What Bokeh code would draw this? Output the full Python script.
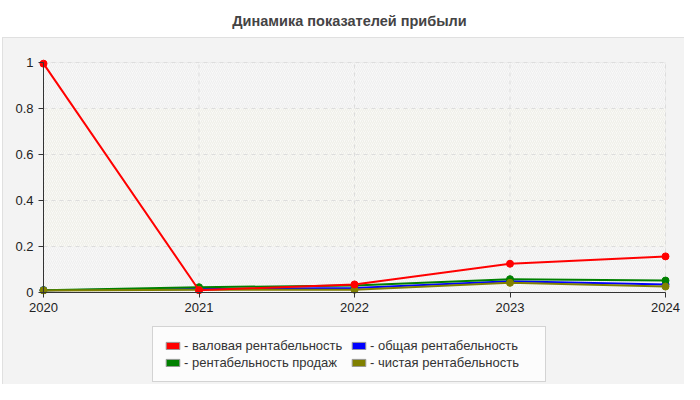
from bokeh.plotting import figure
from bokeh.models import (Range1d, FixedTicker, NumeralTickFormatter, BoxAnnotation,
                          Legend, LegendItem, ColumnDataSource, Label)
from bokeh.embed import file_html
from bokeh.resources import INLINE

years = [2020, 2021, 2022, 2023, 2024]
gross = [0.995, 0.01, 0.035, 0.125, 0.157]     # валовая рентабельность
total = [0.01, 0.015, 0.02, 0.049, 0.035]      # общая рентабельность
sales = [0.01, 0.023, 0.03, 0.058, 0.052]      # рентабельность продаж
net = [0.009, 0.012, 0.012, 0.042, 0.026]      # чистая рентабельность

title_text = "Динамика показателей прибыли"
series_names = ["- валовая рентабельность", "- общая рентабельность",
                "- рентабельность продаж", "- чистая рентабельность"]
series_values = [gross, total, sales, net]
series_colors = ["#ff0000", "#0000ff", "#008000", "#808000"]
y_ticks = [0, 0.2, 0.4, 0.6, 0.8, 1]

FONT = "Liberation Sans"
W, H = 684, 384
PY = 230.0   # pixels per unit of y
PXY = 155.5  # pixels per year
x_lo, x_hi = years[0], years[-1]
y_lo, y_hi = y_ticks[0], y_ticks[-1]

p = figure(width=W, height=H, output_backend="svg", toolbar_location=None,
           x_range=Range1d(x_lo - 43 / PXY, x_hi + 19 / PXY),
           y_range=Range1d(y_lo - 92 / PY, y_hi + 62 / PY),
           min_border_left=0, min_border_right=0, min_border_top=0, min_border_bottom=0)

p.border_fill_color = None
p.background_fill_color = None
p.outline_line_color = None
p.styles = {
    "background": ("linear-gradient(#e0e0e0,#e0e0e0) 2px 37px / 1px 100% no-repeat, "
                   "linear-gradient(#e0e0e0,#e0e0e0) 2px 37px / 100% 1px no-repeat, "
                   "linear-gradient(#f3f3f3,#f3f3f3) 2px 37px / 100% 100% no-repeat, white"),
}

# plot area background
p.add_layout(BoxAnnotation(left=x_lo, right=x_hi, bottom=y_lo, top=y_hi, fill_color="white",
                           line_color="#dddddd", hatch_pattern="/", hatch_color="#eeeeee",
                           hatch_scale=4, hatch_weight=1, level="image"))
p.add_layout(BoxAnnotation(left=x_lo, right=x_hi, bottom=0.2, top=0.8, fill_color="#fbfbf2",
                           line_color=None, hatch_pattern="/", hatch_color="#efefe8",
                           hatch_scale=4, hatch_weight=1, level="image"))

# grid (bounded to the plot area)
p.grid.visible = False
p.segment(x0=years, y0=[y_lo] * len(years), x1=years, y1=[y_hi] * len(years),
          line_color="#dddddd", line_dash="4 4", line_width=1, level="underlay")
p.segment(x0=[x_lo] * len(y_ticks), y0=y_ticks, x1=[x_hi] * len(y_ticks), y1=y_ticks,
          line_color="#dddddd", line_dash="4 4", line_width=1, level="underlay")

for ax in (p.xaxis[0], p.yaxis[0]):
    ax.axis_line_color = "#333333"
    ax.major_tick_line_color = "#333333"
    ax.major_tick_out = 5
    ax.major_tick_in = 0
    ax.minor_tick_line_color = None
    ax.major_label_text_font = FONT
    ax.major_label_text_font_size = "13px"
    ax.major_label_text_color = "#222222"
p.xaxis.ticker = FixedTicker(ticks=years)
p.xaxis.fixed_location = y_lo
p.xaxis.bounds = (x_lo, x_hi)
p.yaxis.ticker = FixedTicker(ticks=y_ticks)
p.yaxis.fixed_location = x_lo
p.yaxis.bounds = (y_lo, y_hi)
p.yaxis.formatter = NumeralTickFormatter(format="0.[0]")

items = {}
draw_order = [1, 2, 3, 0]
for i in draw_order:
    src = ColumnDataSource(dict(x=years, y=series_values[i]))
    p.line("x", "y", source=src, line_color=series_colors[i], line_width=2)
    p.scatter("x", "y", source=src, size=7, fill_color=series_colors[i],
              line_color=series_colors[i])
nan = float("nan")
for i in range(4):
    r = p.rect(x=[nan], y=[nan], width=1, height=1, fill_color=series_colors[i],
               line_color="#999999")
    items[i] = LegendItem(label=series_names[i], renderers=[r])

legend = Legend(items=[items[0], items[2], items[1], items[3]], ncols=2,
                location=(152, 2), orientation="vertical",
                border_line_color="#aaaaaa", background_fill_color="#fcfcfc",
                label_text_font=FONT, label_text_font_size="13px", label_text_color="#333333",
                glyph_width=17, glyph_height=9, label_standoff=3, label_height=14,
                label_width=164, spacing=2, padding=11, margin=0)
p.add_layout(legend, "center")

p.add_layout(Label(x=(x_lo + x_hi) / 2, y=y_hi + 42 / PY, x_offset=-5,
                   text=title_text, text_align="center", text_baseline="middle",
                   text_font=FONT, text_font_size="14.5px", text_font_style="bold",
                   text_color="#444444"))

open("out.html", "w").write(file_html(p, INLINE))
